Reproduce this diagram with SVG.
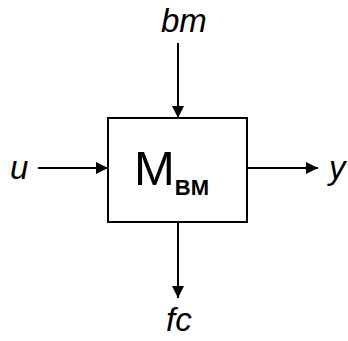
<svg xmlns="http://www.w3.org/2000/svg" width="348" height="341" viewBox="0 0 348 341">
<style>
.lbl{font-family:"Liberation Sans",Arial,sans-serif;font-style:italic;font-size:33px;fill:#000}
.ln{stroke:#000;stroke-width:2;fill:none}
</style>
<defs>
<marker id="ah" markerWidth="12" markerHeight="12" viewBox="0 0 12 12" refX="12" refY="6" orient="auto" markerUnits="userSpaceOnUse">
<path d="M0,0 L12,6 L0,12 Z" fill="#000"/>
</marker>
</defs>
<rect width="348" height="341" fill="#fff"/>
<g id="connectors">
<line class="ln" x1="178" y1="43" x2="178" y2="118" marker-end="url(#ah)"/>
<line class="ln" x1="178" y1="222" x2="178" y2="298" marker-end="url(#ah)"/>
<line class="ln" x1="38" y1="168" x2="108" y2="168" marker-end="url(#ah)"/>
<line class="ln" x1="247" y1="168" x2="318" y2="168" marker-end="url(#ah)"/>
</g>
<g id="block">
<rect x="108" y="118" width="139" height="104" fill="#fff" stroke="#000" stroke-width="2"/>
<text x="134" y="185" font-family="Liberation Sans,Arial,sans-serif" font-size="49">M<tspan font-size="22" font-weight="bold" y="195">BM</tspan></text>
</g>
<g id="bm"><text class="lbl" x="161" y="32">bm</text></g>
<g id="fc"><text class="lbl" x="166" y="331">fc</text></g>
<g id="u"><text class="lbl" x="10" y="179">u</text></g>
<g id="y"><text class="lbl" x="329" y="179">y</text></g>
</svg>
